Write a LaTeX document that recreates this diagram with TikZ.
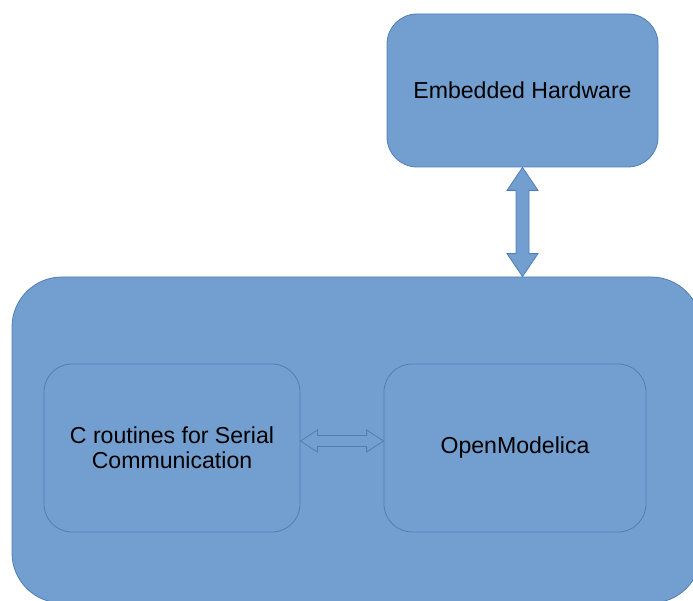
\documentclass[tikz,border=0pt]{standalone}
\usepackage{fontspec}
\setmainfont{Liberation Sans}
\usetikzlibrary{calc}
\definecolor{boxfill}{HTML}{729FCF}
\definecolor{boxline}{HTML}{4F7DB8}
\begin{document}
\begin{tikzpicture}[x=1pt,y=1pt,
  blockbox/.style={draw=boxline, fill=boxfill, line width=0.8pt, inner sep=0pt,
    font=\fontsize{23.1}{25}\selectfont, align=center},
  blockarrow/.style={draw=boxline, fill=boxfill, line width=0.8pt, line join=miter}]
\useasboundingbox (0,0) rectangle (693,601);
\node[blockbox, rounded corners=50pt, minimum width=689pt, minimum height=326pt] (main) at (356.5,161) {};
\node[blockbox, rounded corners=30pt, minimum width=271pt, minimum height=153pt] (hw) at (522.5,510.5) {Embedded Hardware};
\node[blockbox, rounded corners=28pt, minimum width=256pt, minimum height=168pt] (left) at (172,153) {C routines for Serial\\Communication};
\node[blockbox, rounded corners=28pt, minimum width=262pt, minimum height=168pt] (right) at (515,153) {OpenModelica};
% vertical double block arrow
\coordinate (va) at (hw.south);
\coordinate (vb) at (hw.south |- main.north);
\draw[blockarrow] (va) -- ++(15.5,-23) -- ++(-9,0) -- ($(vb)+(6.5,23)$) -- ++(9,0) -- (vb)
  -- ++(-15.5,23) -- ++(9,0) -- ($(va)+(-6.5,-23)$) -- ++(-9,0) -- cycle;
% horizontal double block arrow
\coordinate (ha) at ($(left.east)+(0,7)$);
\coordinate (hb) at ($(right.west)+(0,7)$);
\draw[blockarrow] (ha) -- ++(17,11) -- ++(0,-5.5) -- ($(hb)+(-17,5.5)$) -- ++(0,5.5) -- (hb)
  -- ++(-17,-11) -- ++(0,5.5) -- ($(ha)+(17,-5.5)$) -- ++(0,-5.5) -- cycle;
\end{tikzpicture}
\end{document}
